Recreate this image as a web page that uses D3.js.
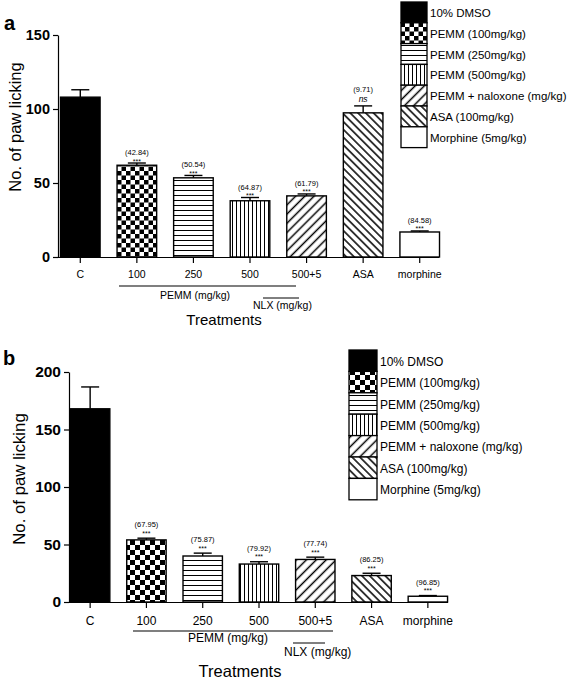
<!DOCTYPE html>
<html>
<head>
<meta charset="utf-8">
<script src="https://cdn.jsdelivr.net/npm/d3@7"></script>
<style>
  html, body { margin: 0; padding: 0; background: #fff; }
  svg { display: block; font-family: "Liberation Sans", Arial, sans-serif; }
</style>
</head>
<body>
<svg id="chart" width="567" height="679"></svg>
<script>
// ---------- data ----------
const categories = ["C", "100", "250", "500", "500+5", "ASA", "morphine"];
const patternKeys = ["solid", "checker", "hlines", "vlines", "fwd", "back", "empty"];
const legendLabels = ["10% DMSO", "PEMM (100mg/kg)", "PEMM (250mg/kg)", "PEMM (500mg/kg)",
                      "PEMM + naloxone (mg/kg)", "ASA (100mg/kg)", "Morphine (5mg/kg)"];

const meansA = [108, 62, 53.5, 38, 41.3, 97.4, 16.9];
const errA   = [5, 1.5, 1.6, 2.2, 1.3, 4.7, 0.7];
const inhibA = [null, "(42.84)", "(50.54)", "(64.87)", "(61.79)", "(9.71)", "(84.58)"];
const sigA   = [null, "***", "***", "***", "***", "ns", "***"];
const ticksA = [0, 50, 100, 150];

const meansB = [168, 54, 40, 33, 37, 23, 5];
const errB   = [19, 1.5, 2.5, 2, 2, 2, 0.6];
const inhibB = [null, "(67.95)", "(75.87)", "(79.92)", "(77.74)", "(86.25)", "(96.85)"];
const sigB   = [null, "***", "***", "***", "***", "***", "***"];
const ticksB = [0, 50, 100, 150, 200];

const yTitle = "No. of paw licking";
const xTitle = "Treatments";
const groupPEMM = "PEMM (mg/kg)";
const groupNLX = "NLX (mg/kg)";

// ---------- drawing ----------
const svg = d3.select("#chart");
const defs = svg.append("defs");

function makePatterns(prefix, p) {
  // checker
  const ck = defs.append("pattern").attr("id", prefix + "checker")
    .attr("patternUnits", "userSpaceOnUse").attr("width", p.ck * 2).attr("height", p.ck * 2);
  ck.append("rect").attr("width", p.ck * 2).attr("height", p.ck * 2).attr("fill", "#fff");
  ck.append("rect").attr("width", p.ck).attr("height", p.ck).attr("fill", "#000");
  ck.append("rect").attr("x", p.ck).attr("y", p.ck).attr("width", p.ck).attr("height", p.ck).attr("fill", "#000");
  // horizontal lines
  const hl = defs.append("pattern").attr("id", prefix + "hlines")
    .attr("patternUnits", "userSpaceOnUse").attr("width", 10).attr("height", p.hs);
  hl.append("rect").attr("width", 10).attr("height", p.hs).attr("fill", "#fff");
  hl.append("rect").attr("x", 0).attr("y", 0).attr("width", 10).attr("height", 1)
    .attr("fill", "#000");
  // vertical lines
  const vl = defs.append("pattern").attr("id", prefix + "vlines")
    .attr("patternUnits", "userSpaceOnUse").attr("width", p.vs).attr("height", 10);
  vl.append("rect").attr("width", p.vs).attr("height", 10).attr("fill", "#fff");
  vl.append("rect").attr("x", 0).attr("y", 0).attr("width", 1).attr("height", 10)
    .attr("fill", "#000");
  // forward diagonal "/"
  const fw = defs.append("pattern").attr("id", prefix + "fwd")
    .attr("patternUnits", "userSpaceOnUse").attr("width", p.fs).attr("height", 10)
    .attr("patternTransform", "rotate(45)");
  fw.append("rect").attr("width", p.fs).attr("height", 10).attr("fill", "#fff");
  fw.append("line").attr("y1", 0).attr("y2", 10).attr("x1", p.fs / 2).attr("x2", p.fs / 2)
    .attr("stroke", "#000").attr("stroke-width", 1.5);
  // back diagonal "\"
  const bk = defs.append("pattern").attr("id", prefix + "back")
    .attr("patternUnits", "userSpaceOnUse").attr("width", p.bs).attr("height", 10)
    .attr("patternTransform", "rotate(-45)");
  bk.append("rect").attr("width", p.bs).attr("height", 10).attr("fill", "#fff");
  bk.append("line").attr("y1", 0).attr("y2", 10).attr("x1", p.bs / 2).attr("x2", p.bs / 2)
    .attr("stroke", "#000").attr("stroke-width", 1.5);
}

function fillFor(prefix, key) {
  if (key === "solid") return "#000";
  if (key === "empty") return "#fff";
  return "url(#" + prefix + key + ")";
}

function drawPanel(c) {
  makePatterns(c.id, c.pat);
  const g = svg.append("g");

  const x = d3.scaleBand().domain(categories).range(c.xRange).paddingInner(0.3).paddingOuter(0.15);
  const y = d3.scaleLinear().domain([0, c.yMax]).range([c.yBottom, c.yTop]);

  // y axis
  const yAx = g.append("g").attr("transform", `translate(${c.axisX},0)`)
    .call(d3.axisLeft(y).tickValues(c.ticks).tickSize(5).tickPadding(3).tickSizeOuter(0));
  yAx.select(".domain").attr("stroke-width", 1.2);
  yAx.selectAll(".tick line").attr("stroke-width", 1.2);
  yAx.selectAll("text").attr("font-size", c.yTickFs).attr("font-weight", "bold")
    .attr("font-family", "Liberation Sans, Arial, sans-serif");

  // x axis
  const xAx = g.append("g").attr("transform", `translate(0,${c.yBottom})`)
    .call(d3.axisBottom(x).tickSize(6).tickPadding(c.xTickPad).tickSizeOuter(0));
  xAx.select(".domain").attr("d", `M${c.axisX},0.5H${c.xAxisEnd}`).attr("stroke-width", 1.2);
  xAx.selectAll(".tick line").attr("stroke-width", 1.2);
  xAx.selectAll("text").attr("font-size", c.xTickFs)
    .attr("font-family", "Liberation Sans, Arial, sans-serif");

  const data = categories.map((cat, i) => ({
    cat, mean: c.means[i], err: c.errs[i], key: patternKeys[i],
    inhib: c.inhib[i], sig: c.sig[i]
  }));

  // error bars (behind bars)
  const eb = g.append("g").attr("stroke", "#000").attr("stroke-width", 1.4);
  data.forEach(d => {
    const cx = x(d.cat) + x.bandwidth() / 2;
    eb.append("line").attr("x1", cx).attr("x2", cx).attr("y1", y(d.mean)).attr("y2", y(d.mean + d.err));
    eb.append("line").attr("x1", cx - c.cap / 2).attr("x2", cx + c.cap / 2)
      .attr("y1", y(d.mean + d.err)).attr("y2", y(d.mean + d.err));
  });

  // bars
  g.append("g").selectAll("rect").data(data).join("rect")
    .attr("x", d => x(d.cat))
    .attr("y", d => y(d.mean))
    .attr("width", x.bandwidth())
    .attr("height", d => y(0) - y(d.mean))
    .attr("fill", d => fillFor(c.id, d.key))
    .attr("stroke", "#000").attr("stroke-width", 1.4);

  // annotations
  const an = g.append("g").attr("text-anchor", "middle").attr("fill", "#000");
  data.forEach(d => {
    if (!d.inhib) return;
    const cx = x(d.cat) + x.bandwidth() / 2;
    const top = y(d.mean + d.err);
    if (d.sig === "ns") {
      an.append("text").attr("x", cx).attr("y", top - 4).attr("font-size", 8.5)
        .attr("font-style", "italic").text("ns");
      an.append("text").attr("x", cx).attr("y", top - 14).attr("font-size", c.annFs).text(d.inhib);
    } else {
      an.append("text").attr("x", cx).attr("y", top + c.starOff).attr("font-size", 7).text(d.sig);
      an.append("text").attr("x", cx).attr("y", top - c.labOff).attr("font-size", c.annFs).text(d.inhib);
    }
  });

  // group labels
  const gl = g.append("g").attr("fill", "#000");
  gl.append("line").attr("x1", c.pemmLine[0]).attr("x2", c.pemmLine[1])
    .attr("y1", c.pemmLineY).attr("y2", c.pemmLineY).attr("stroke", "#000").attr("stroke-width", 1.2);
  gl.append("text").attr("x", c.pemmTextX).attr("y", c.pemmTextY).attr("text-anchor", "middle")
    .attr("font-size", c.xTickFs).text(groupPEMM);
  gl.append("line").attr("x1", c.nlxLine[0]).attr("x2", c.nlxLine[1])
    .attr("y1", c.nlxLineY).attr("y2", c.nlxLineY).attr("stroke", "#000").attr("stroke-width", 1);
  gl.append("text").attr("x", c.nlxTextX).attr("y", c.nlxTextY).attr("text-anchor", "start")
    .attr("font-size", c.xTickFs).text(groupNLX);

  // axis titles
  g.append("text").attr("x", c.xTitleX).attr("y", c.xTitleY).attr("text-anchor", "middle")
    .attr("font-size", c.xTitleFs).text(xTitle);
  g.append("text").attr("transform", `translate(${c.yTitleX},${c.yTitleY}) rotate(-90)`)
    .attr("text-anchor", "middle").attr("font-size", c.yTitleFs).text(yTitle);

  // panel letter
  g.append("text").attr("x", c.letterX).attr("y", c.letterY).attr("font-size", 20)
    .attr("font-weight", "bold").text(c.letter);

  // legend
  const lg = g.append("g");
  legendLabels.forEach((lab, i) => {
    const ty = c.legTop + i * c.legRowH;
    lg.append("rect").attr("x", c.legX).attr("y", ty).attr("width", c.legW).attr("height", c.legRowH)
      .attr("fill", fillFor(c.id, patternKeys[i])).attr("stroke", "#000").attr("stroke-width", 1.3);
    lg.append("text").attr("x", c.legX + c.legW + 3).attr("y", ty + c.legRowH / 2 + c.legTextDy)
      .attr("font-size", c.legFs).text(lab);
  });
}

drawPanel({
  id: "a_", letter: "a", letterX: 4, letterY: 30,
  means: meansA, errs: errA, inhib: inhibA, sig: sigA, ticks: ticksA,
  yMax: 150, yTop: 35, yBottom: 257, axisX: 58, xRange: [52, 448], xAxisEnd: 439,
  yTickFs: 14.5, xTickFs: 10.5, xTickPad: 8, annFs: 7.5, cap: 18, labOff: 8, starOff: 0.5,
  pat: { ck: 4.5, hs: 5, vs: 4, fs: 6.5, bs: 5.5 },
  pemmLine: [119, 296], pemmLineY: 286, pemmTextX: 195, pemmTextY: 299,
  nlxLine: [263, 299], nlxLineY: 298, nlxTextX: 253, nlxTextY: 309,
  xTitleX: 224, xTitleY: 325, xTitleFs: 15,
  yTitleX: 21, yTitleY: 127, yTitleFs: 16.5,
  legX: 401, legW: 26, legTop: 2, legRowH: 20.8, legTextDy: 4.5, legFs: 11.5
});

drawPanel({
  id: "b_", letter: "b", letterX: 3, letterY: 365,
  means: meansB, errs: errB, inhib: inhibB, sig: sigB, ticks: ticksB,
  yMax: 200, yTop: 372, yBottom: 602, axisX: 69, xRange: [62, 456], xAxisEnd: 448,
  yTickFs: 15.5, xTickFs: 12, xTickPad: 8, annFs: 7.5, cap: 18, labOff: 11, starOff: -2.5,
  pat: { ck: 5, hs: 5, vs: 4, fs: 7, bs: 5.5 },
  pemmLine: [133, 333], pemmLineY: 631, pemmTextX: 228, pemmTextY: 642,
  nlxLine: [293, 325], nlxLineY: 643, nlxTextX: 284, nlxTextY: 656,
  xTitleX: 240, xTitleY: 677, xTitleFs: 16.5,
  yTitleX: 25, yTitleY: 479, yTitleFs: 16.8,
  legX: 349, legW: 28, legTop: 350, legRowH: 21.4, legTextDy: 5, legFs: 12
});
</script>
</body>
</html>
